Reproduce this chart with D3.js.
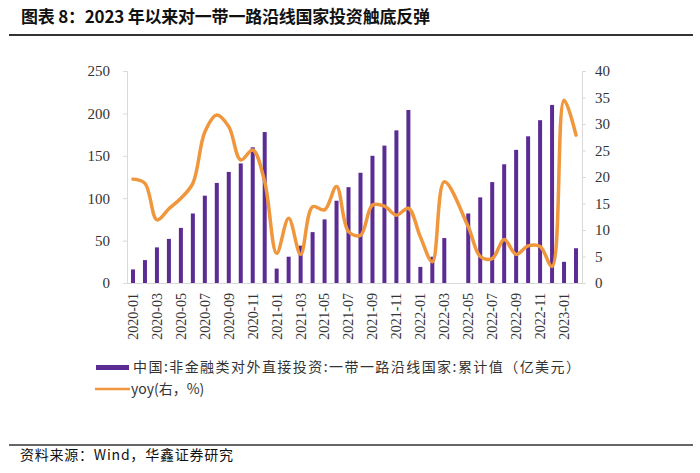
<!DOCTYPE html>
<html><head><meta charset="utf-8">
<script src="https://cdn.jsdelivr.net/npm/d3@7"></script>
<style>body{margin:0;background:#fff;} svg{display:block;}</style>
</head><body><svg id="c" width="700" height="473"></svg>
<script>
const months = ["2020-01","2020-02","2020-03","2020-04","2020-05","2020-06","2020-07","2020-08","2020-09","2020-10","2020-11","2020-12",
  "2021-01","2021-02","2021-03","2021-04","2021-05","2021-06","2021-07","2021-08","2021-09","2021-10","2021-11","2021-12",
  "2022-01","2022-02","2022-03","2022-04","2022-05","2022-06","2022-07","2022-08","2022-09","2022-10","2022-11","2022-12",
  "2023-01","2023-02"];
const investment = [16, 27, 42, 52, 65, 82, 103, 118, 131, 141, 160, 178,
  17, 31, 44, 60, 75, 97, 113, 130, 150, 162, 180, 204,
  19, 31, 53, null, 82, 101, 119, 140, 157, 173, 192, 210,
  25, 41];
const yoy = [19.6, 18.8, 11.9, 14.0, 16.0, 18.8, 28.5, 31.7, 29.5, 23.2, 25.1, 19.1,
  5.6, 12.2, 5.4, 14.4, 13.8, 18.2, 9.7, 9.0, 14.7, 14.5, 12.8, 14.1,
  8.7, 4.0, 19.1, null, 10.6, 5.0, 4.6, 8.2, 5.4, 7.0, 6.9, 3.1,
  34.5, 27.9];
const leftTicks = [0, 50, 100, 150, 200, 250];
const rightTicks = [0, 5, 10, 15, 20, 25, 30, 35, 40];
const xTickLabels = months.filter((d, i) => i % 2 === 0);
const titleText = "图表 8：2023 年以来对一带一路沿线国家投资触底反弹";
const legendLabels = ["中国:非金融类对外直接投资:一带一路沿线国家:累计值（亿美元）", "yoy(右，%)"];
const sourceText = "资料来源：Wind，华鑫证券研究";

const barColor = "#5B2C93";
const lineColor = "#F0963C";
const axisColor = "#D9D9D9";
const textColor = "#333";

const svg = d3.select("#c");
const P = {left: 127, right: 582, top: 71, bottom: 283};

const x = d3.scaleBand().domain(months).range([P.left, P.right]);
const yL = d3.scaleLinear().domain([0, 250]).range([P.bottom, P.top]);
const yR = d3.scaleLinear().domain([0, 40]).range([P.bottom, P.top]);
const cx = m => x(m) + x.bandwidth() / 2;

// Title
svg.append("text").attr("x", 21).attr("y", 23)
  .attr("font-family", "'Noto Sans CJK SC', sans-serif").attr("font-weight", "bold")
  .attr("font-size", 17).attr("fill", "#111")
  .attr("textLength", 409).attr("lengthAdjust", "spacing")
  .text(titleText);
svg.append("line").attr("x1", 9).attr("x2", 693).attr("y1", 35).attr("y2", 35)
  .attr("stroke", "#333").attr("stroke-width", 2);

// Axes
const axL = svg.append("g").attr("transform", `translate(${P.left},0)`)
  .call(d3.axisLeft(yL).tickValues(leftTicks).tickSize(4).tickPadding(13));
const axR = svg.append("g").attr("transform", `translate(${P.right},0)`)
  .call(d3.axisRight(yR).tickValues(rightTicks).tickSize(4).tickPadding(9));
const axB = svg.append("g").attr("transform", `translate(0,${P.bottom})`)
  .call(d3.axisBottom(x).tickValues(xTickLabels).tickSize(0));
[axL, axR, axB].forEach(g => {
  g.select(".domain").attr("stroke", axisColor).attr("stroke-width", 1);
  g.selectAll(".tick line").attr("stroke", axisColor);
  g.selectAll("text").attr("font-family", "'Liberation Serif', 'Times New Roman', serif")
    .attr("fill", textColor);
});
axL.selectAll("text").attr("font-size", 15);
axR.selectAll("text").attr("font-size", 15);
axB.selectAll("text").attr("font-size", 14)
  .attr("transform", "rotate(-90)").attr("x", -10).attr("y", 0).attr("dy", "0.35em")
  .style("text-anchor", "end");

// Bars
svg.append("g").selectAll("rect")
  .data(months.map((m, i) => ({m, v: investment[i]})).filter(d => d.v != null))
  .join("rect")
  .attr("x", d => cx(d.m) - 2).attr("width", 4)
  .attr("y", d => yL(d.v)).attr("height", d => yL(0) - yL(d.v))
  .attr("fill", barColor);

// Line
const lineData = months.map((m, i) => ({m, v: yoy[i]})).filter(d => d.v != null);
svg.append("path").datum(lineData)
  .attr("fill", "none").attr("stroke", lineColor).attr("stroke-width", 3.5)
  .attr("stroke-linejoin", "round").attr("stroke-linecap", "round")
  .attr("d", d3.line().x(d => cx(d.m)).y(d => yR(d.v)).curve(d3.curveCatmullRom.alpha(0.5)));

// Legend
const lg = svg.append("g");
lg.append("rect").attr("x", 96).attr("y", 365).attr("width", 33).attr("height", 5).attr("fill", barColor);
lg.append("text").attr("x", 133).attr("y", 367.5).attr("dy", "0.35em")
  .attr("font-family", "'Noto Sans CJK SC', sans-serif").attr("font-size", 14).attr("fill", textColor)
  .attr("textLength", 447).attr("lengthAdjust", "spacing")
  .text(legendLabels[0]);
lg.append("line").attr("x1", 95).attr("x2", 130).attr("y1", 389).attr("y2", 389)
  .attr("stroke", lineColor).attr("stroke-width", 2.5);
lg.append("text").attr("x", 131).attr("y", 389.5).attr("dy", "0.35em")
  .attr("font-family", "'Noto Sans CJK SC', sans-serif").attr("font-size", 14).attr("fill", textColor)
  .text(legendLabels[1]);

// Source
svg.append("line").attr("x1", 9).attr("x2", 693).attr("y1", 445).attr("y2", 445)
  .attr("stroke", "#333").attr("stroke-width", 1.5);
svg.append("text").attr("x", 20).attr("y", 455.5).attr("dy", "0.35em")
  .attr("font-family", "'Noto Sans CJK SC', sans-serif").attr("font-size", 14).attr("fill", "#111")
  .attr("textLength", 213).attr("lengthAdjust", "spacing")
  .text(sourceText);
</script>
</body></html>
